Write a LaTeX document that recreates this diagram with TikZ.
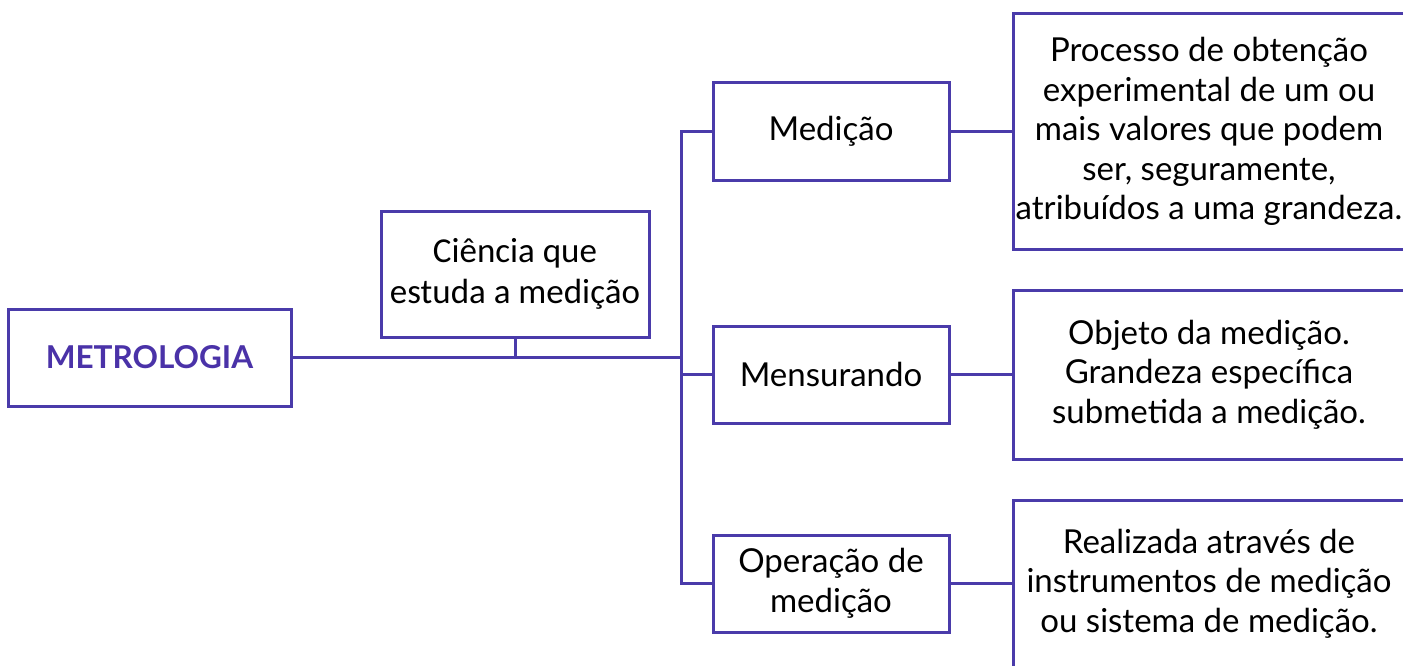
\documentclass[tikz,border=0pt]{standalone}
\usepackage{fontspec}
\setmainfont{Lato}
\newfontfamily\cienfont{Carlito}
\definecolor{lineP}{HTML}{4A3BAA}
\definecolor{textP}{HTML}{4A32A8}
\tikzset{
  box/.style={draw=lineP, line width=3pt, inner sep=0pt, align=center, text=black,
    font=\fontsize{33}{39.5}\selectfont},
  conn/.style={draw=lineP, line width=3pt},
}
\begin{document}
\begin{tikzpicture}[x=1pt,y=-1pt]
\clip (0,0) rectangle (1403,666);
\fill[white] (0,0) rectangle (1403,666);
\node[box, minimum width=283pt, minimum height=97pt, text=textP, font=\fontsize{31.5}{36}\selectfont\bfseries] (metro) at (149.5,357.5) {METROLOGIA};
\node[box, minimum width=268pt, minimum height=126pt, font=\cienfont\fontsize{35}{41}\selectfont] (cien) at (515,274) {Ciência que\\estuda a medição};
\node[box, minimum width=236pt, minimum height=97pt] (med) at (831,131.5) {Medição};
\node[box, minimum width=236pt, minimum height=97pt] (mens) at (831,374.5) {Mensurando};
\node[box, minimum width=236pt, minimum height=97pt] (oper) at (831,583.5) {Operação de\\medição};
\node[box, minimum width=392pt, minimum height=236pt] (d1) at (1209,131.5) {Processo de obtenção\\experimental de um ou\\mais valores que podem\\ser, seguramente,\\atribuídos a uma grandeza.};
\node[box, minimum width=392pt, minimum height=169pt] (d2) at (1209,374.5) {Objeto da medição.\\Grandeza específica\\submetida a medição.};
\node[box, minimum width=392pt, minimum height=167pt] (d3) at (1209,583.5) {Realizada através de\\instrumentos de medição\\ou sistema de medição.};
\coordinate (bus) at (681,357.5);
\draw[conn] (metro.east) -- (bus);
\draw[conn] (cien.south) -- (cien.south |- metro.east);
\draw[conn] (med.west) -- (med.west -| bus) -- (oper.west -| bus) -- (oper.west);
\draw[conn] (mens.west) -- (mens.west -| bus);
\draw[conn] (med.east) -- (med.east -| d1.west);
\draw[conn] (mens.east) -- (mens.east -| d2.west);
\draw[conn] (oper.east) -- (oper.east -| d3.west);
\end{tikzpicture}
\end{document}
